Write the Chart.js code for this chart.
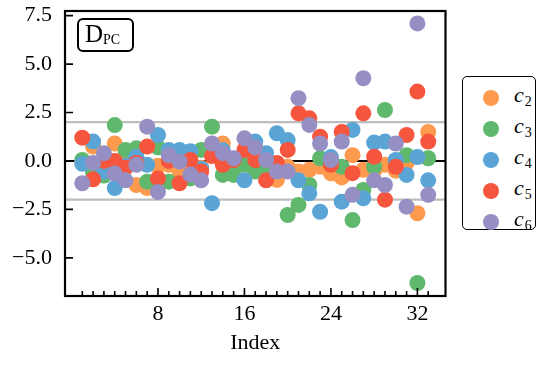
<!DOCTYPE html>
<html><head><meta charset="utf-8">
<script src="https://cdn.jsdelivr.net/npm/chart.js@4.4.0/dist/chart.umd.min.js"></script>
<style>
body{margin:0;background:#fff}
#wrap{position:relative;width:545px;height:365px;font-family:"Liberation Serif",serif;color:#000}
#lbl{position:absolute;left:77px;top:18px;width:53px;height:30px;border:2px solid #000;border-radius:6px;background:#fff}
#lbl .D{position:absolute;left:6px;top:-1px;font-size:25px;line-height:30px}
#lbl .s{position:absolute;left:24px;top:10px;font-size:14px;line-height:20px}
#leg{position:absolute;left:462px;top:76px;width:72px;height:152px;border:1.5px solid #000;border-radius:5px;background:#fff}
.it{position:absolute;left:0;width:72px;height:30px}
.dot{position:absolute;left:20px;top:7px;width:16px;height:16px;border-radius:50%}
.tx{position:absolute;left:51px;top:0;font-size:22px;line-height:24px;font-style:italic}
.tx sub{font-style:normal;font-size:14px;vertical-align:-4px;margin-left:1px}
</style></head>
<body><div id="wrap"><canvas id="c" width="545" height="365"></canvas>
<div id="lbl"><span class="D">D</span><span class="s">PC</span></div>
<div id="leg"></div></div>
<script>
const indices = [1,2,3,4,5,6,7,8,9,10,11,12,13,14,15,16,17,18,19,20,21,22,23,24,25,26,27,28,29,30,31,32,33];
const c2 = [-0.05,0.74,-0.3,0.9,0.4,-1.24,-1.4,-0.25,-0.2,-0.55,-0.3,-0.35,0.6,0.9,-0.3,0.3,-0.35,-0.45,-0.98,-0.3,-0.55,-0.46,-0.3,-0.64,-0.85,0.3,-0.46,-0.5,-0.2,-0.5,-0.1,-2.7,1.5];
const c3 = [0.05,-0.6,-0.75,1.85,0.57,0.65,-1.07,0.7,-1.07,0.2,-0.9,0.57,1.77,-0.72,-0.72,-0.2,-0.55,-0.25,-0.4,-2.79,-2.27,-1.24,0.14,-0.1,-0.3,-3.05,-1.5,-0.3,2.63,0.0,0.3,-6.3,0.14];
const c4 = [-0.15,1.0,-0.55,-1.4,-0.25,0.22,-0.2,1.34,0.57,0.57,0.5,-0.4,-2.18,0.55,0.1,-1.0,1.0,0.4,1.43,1.08,-1.0,-1.67,-2.62,0.2,-2.1,1.6,-1.93,0.95,1.0,0.05,-0.72,0.2,-1.0];
const c5 = [1.2,-0.95,0.0,0.0,-0.35,-0.1,0.74,-0.9,0.0,-1.15,0.05,-0.55,0.25,-0.2,0.05,0.57,0.05,-1.0,-0.1,0.57,2.46,2.2,1.25,-0.2,1.5,-0.63,2.46,0.22,-2.0,-0.3,1.34,3.58,1.0];
const c6 = [-1.15,-0.1,0.4,-0.65,-1.0,-0.2,1.77,-1.6,0.3,-0.03,-0.7,-1.0,0.9,0.4,0.14,1.17,0.7,0.05,-0.55,-0.55,3.24,1.86,0.9,0.05,1.0,-1.75,4.27,-1.0,-1.24,0.9,-2.36,7.1,-1.75];
const seriesNames = ['2','3','4','5','6'];
const seriesValues = [c2,c3,c4,c5,c6];
const colors = ['#fd9a4e','#5fb86c','#5aa5d5','#f6563d','#958fc4'];
const yTicks = [-5,-2.5,0,2.5,5,7.5];
const yTickLabels = ['\u22125.0','\u22122.5','0.0','2.5','5.0','7.5'];
const xTicks = [8,16,24,32];
const xMinorTicks = [1,2,3,4,5,6,7,9,10,11,12,13,14,15,17,18,19,20,21,22,23,25,26,27,28,29,30,31,33];
const refLines = [-2,0,2];
const FONT = '"Liberation Serif", serif';

const datasets = seriesValues.map((vals,k)=>({
  label:'c'+seriesNames[k],
  data: indices.map((x,i)=>({x:x,y:vals[i]})),
  backgroundColor: colors[k],
  borderWidth:0,
  pointRadius:8,
  pointHoverRadius:8,
  order: 5-k
}));

const deco = {
  id:'deco',
  beforeDatasetsDraw(chart){
    const {ctx, chartArea:a, scales:{y}} = chart;
    ctx.save();
    refLines.forEach(v=>{
      const py = y.getPixelForValue(v);
      ctx.strokeStyle = v===0 ? '#000' : '#bdbdbd';
      ctx.lineWidth = v===0 ? 2 : 2.2;
      ctx.beginPath(); ctx.moveTo(a.left,py); ctx.lineTo(a.right,py); ctx.stroke();
    });
    ctx.restore();
  },
  afterDatasetsDraw(chart){
    const {ctx, chartArea:a, scales:{x,y}} = chart;
    ctx.save();
    ctx.strokeStyle='#000'; ctx.lineWidth=1.6;
    ctx.beginPath();
    yTicks.forEach(v=>{const py=y.getPixelForValue(v); ctx.moveTo(a.left,py); ctx.lineTo(a.left+8,py);});
    xTicks.forEach(v=>{const px=x.getPixelForValue(v); ctx.moveTo(px,a.bottom); ctx.lineTo(px,a.bottom-8);});
    xMinorTicks.forEach(v=>{const px=x.getPixelForValue(v); ctx.moveTo(px,a.bottom); ctx.lineTo(px,a.bottom-5);});
    ctx.stroke();
    ctx.lineWidth=2.2;
    ctx.strokeRect(a.left,a.top,a.right-a.left,a.bottom-a.top);
    ctx.restore();
  }
};

new Chart(document.getElementById('c'),{
  type:'scatter',
  data:{datasets},
  options:{
    responsive:false, animation:false,
    layout:{padding:{top:11,right:99.5,left:0,bottom:0}},
    plugins:{legend:{display:false},tooltip:{enabled:false}},
    scales:{
      x:{type:'linear',min:-0.6,max:34.6,
        afterBuildTicks:s=>{s.ticks=xTicks.map(v=>({value:v}));},
        afterFit:s=>{s.height=69;s.paddingLeft=0;s.paddingRight=0;},
        grid:{display:false,drawTicks:false},border:{display:false},
        ticks:{color:'#000',font:{family:FONT,size:22},padding:5,maxRotation:0,autoSkip:false},
        title:{display:true,text:'Index',color:'#000',font:{family:FONT,size:22},padding:{top:0,bottom:9}}
      },
      y:{type:'linear',min:-6.97,max:7.74,
        afterBuildTicks:s=>{s.ticks=yTicks.map(v=>({value:v}));},
        afterFit:s=>{s.width=65;s.paddingTop=0;s.paddingBottom=0;},
        grid:{display:false,drawTicks:false},border:{display:false},
        ticks:{color:'#000',font:{family:FONT,size:22},padding:13,
          callback:(v)=>{const i=yTicks.indexOf(v);return i>=0?yTickLabels[i]:'';}}
      }
    }
  },
  plugins:[deco]
});

const leg = document.getElementById('leg');
seriesNames.forEach((n,k)=>{
  const it=document.createElement('div'); it.className='it'; it.style.top=(6+k*31)+'px';
  it.innerHTML='<div class="dot" style="background:'+colors[k]+'"></div><span class="tx">c<sub>'+n+'</sub></span>';
  leg.appendChild(it);
});
</script></body></html>
